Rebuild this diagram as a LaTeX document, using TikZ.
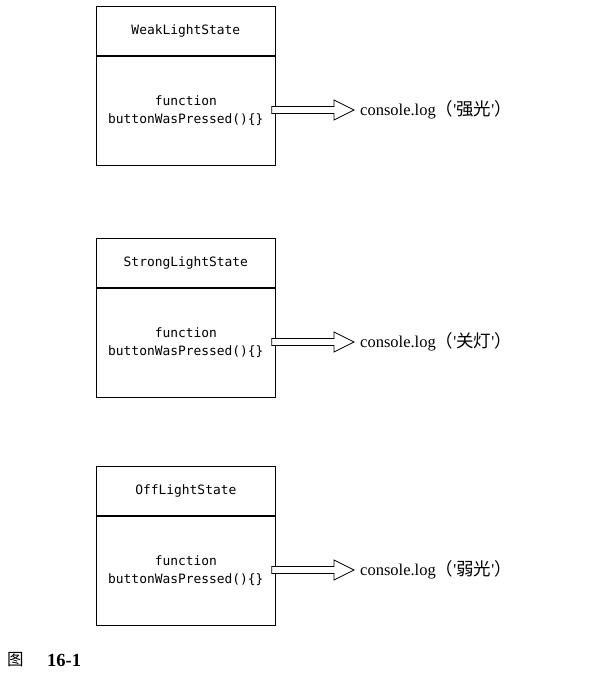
\documentclass[tikz,border=0pt]{standalone}
\usepackage{fontspec}
\setmainfont{Liberation Serif}
\setmonofont{DejaVu Sans Mono}
\newfontfamily\cjk{Noto Sans CJK SC}
\begin{document}
\begin{tikzpicture}[x=1pt,y=-1pt,
  titlebox/.style={draw,line width=0.7pt,minimum width=179pt,minimum height=49pt,anchor=north west,inner sep=0pt,font=\ttfamily\fontsize{12.9}{15}\selectfont},
  bodybox/.style={draw,line width=0.7pt,minimum width=179pt,minimum height=109pt,anchor=north west,inner sep=0pt,align=center,font=\ttfamily\fontsize{12.9}{18.5}\selectfont},
  outtext/.style={anchor=west,inner sep=0pt,font=\fontsize{16.5}{18}\selectfont},
  hollowarrow/.style={draw,line width=0.8pt,fill=white}]
\useasboundingbox (0,0) rectangle (599,675);
\foreach \n/\y/\title/\out in {a/6/WeakLightState/强光, b/238/StrongLightState/关灯, c/466/OffLightState/弱光}{
  \node[titlebox] (t\n) at (96,\y) {\raisebox{-1.5pt}{\title}};
  \node[bodybox] (b\n) at (t\n.south west) {function\\buttonWasPressed()\{\}};
  \node[outtext] (o\n) at (360,\y+104) {console.log{\cjk\fontsize{17.5}{18}\selectfont （}\textquotesingle{\cjk\fontsize{17.5}{18}\selectfont \out}\textquotesingle{\cjk\fontsize{17.5}{18}\selectfont ）}};
  \draw[hollowarrow] ([xshift=-4pt,yshift=-3.5pt]b\n.east |- o\n.west)
     -- ([xshift=-26pt,yshift=-3.5pt]o\n.west) -- ([xshift=-26pt,yshift=-10pt]o\n.west)
     -- ([xshift=-6pt]o\n.west) -- ([xshift=-26pt,yshift=10pt]o\n.west)
     -- ([xshift=-26pt,yshift=3.5pt]o\n.west) -- ([xshift=-4pt,yshift=3.5pt]b\n.east |- o\n.west) -- cycle;
}
\node[anchor=west,inner sep=0pt] (cap1) at (7,660) {\cjk\fontsize{16.5}{18}\selectfont 图};
\node[anchor=west,inner sep=0pt] (cap2) at (47,660) {\fontsize{18.5}{20}\selectfont\bfseries 16-1};
\end{tikzpicture}
\end{document}
